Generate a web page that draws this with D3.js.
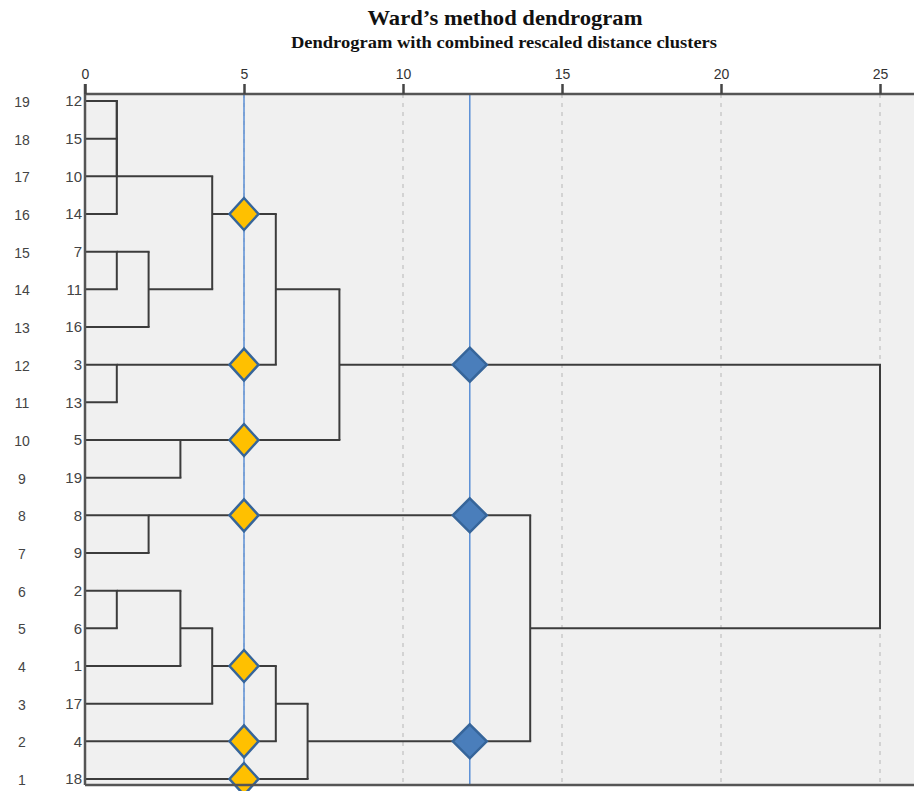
<!DOCTYPE html>
<html>
<head>
<meta charset="utf-8">
<script src="https://cdn.jsdelivr.net/npm/d3@7"></script>
<style>
  html, body { margin: 0; padding: 0; background: #ffffff; }
  svg { display: block; }
</style>
</head>
<body>
<svg id="chart" width="914" height="791"></svg>
<script>
// ---------------- DATA ----------------
const title = "Ward\u2019s method dendrogram";
const subtitle = "Dendrogram with combined rescaled distance clusters";
// Leaves, top to bottom: case labels and their row numbers
const caseLabels = ["12","15","10","14","7","11","16","3","13","5","19","8","9","2","6","1","17","4","18"];
const rowNumbers = [19,18,17,16,15,14,13,12,11,10,9,8,7,6,5,4,3,2,1];
// Agglomeration steps: [childA, childB, rescaled distance]
// children: "L<case>" = leaf, "M<step>" = earlier merge (1-based)
const mergeA = ["L12","M1","M2","L7","M4","M3","L3","M6","L5","M8","L8","L2","M12","M13","M14","M15","M11","M10"];
const mergeB = ["L15","L10","L14","L11","L16","M5","L13","M7","L19","M9","L9","L6","L1","L17","L4","L18","M16","M17"];
const mergeDist = [1,1,1,1,2,4,1,6,3,8,2,1,3,4,6,7,14,25];
// Cut lines (rescaled distance)
const cuts = [5.0, 12.1];
const tickValues = [0,5,10,15,20,25];

// ---------------- LAYOUT ----------------
const svg = d3.select("#chart");
const plot = {left: 85, right: 914, top: 94, bottom: 785};
const x = d3.scaleLinear().domain([0, 25]).range([85, 880]);
const y = d3.scalePoint().domain(d3.range(caseLabels.length)).range([101, 779]);

// build tree
const nodes = {};
caseLabels.forEach((c, i) => nodes["L" + c] = {pos: i, dist: 0});
const segs = [];   // horizontal segments
const verts = [];  // vertical segments
mergeA.forEach((a, i) => {
  const A = nodes[a], B = nodes[mergeB[i]], d = mergeDist[i];
  segs.push({pos: A.pos, d0: A.dist, d1: d});
  segs.push({pos: B.pos, d0: B.dist, d1: d});
  verts.push({d: d, p0: Math.min(A.pos, B.pos), p1: Math.max(A.pos, B.pos)});
  nodes["M" + (i + 1)] = {pos: Math.floor((A.pos + B.pos) / 2), dist: d};
});

// background
svg.append("rect").attr("x", plot.left).attr("y", plot.top)
  .attr("width", plot.right - plot.left).attr("height", plot.bottom - plot.top)
  .attr("fill", "#f0f0f0");

// dotted grid
svg.append("g").selectAll("line").data(tickValues.filter(t => t > 0)).join("line")
  .attr("x1", d => x(d)).attr("x2", d => x(d))
  .attr("y1", plot.top).attr("y2", plot.bottom)
  .attr("stroke", "#c9c9c9").attr("stroke-width", 1.5).attr("stroke-dasharray", "4,5");

// dendrogram
const dg = svg.append("g").attr("stroke", "#3c3c3c").attr("stroke-width", 2).attr("fill", "none");
dg.selectAll("line.h").data(segs).join("line").attr("class", "h")
  .attr("x1", d => x(d.d0)).attr("x2", d => x(d.d1) + 1)
  .attr("y1", d => y(d.pos)).attr("y2", d => y(d.pos));
dg.selectAll("line.v").data(verts).join("line").attr("class", "v")
  .attr("x1", d => x(d.d)).attr("x2", d => x(d.d))
  .attr("y1", d => y(d.p0)).attr("y2", d => y(d.p1));

// cut lines
svg.append("g").selectAll("line").data(cuts).join("line")
  .attr("x1", d => x(d)).attr("x2", d => x(d))
  .attr("y1", plot.top).attr("y2", plot.bottom)
  .attr("stroke", "#5b8fd6").attr("stroke-width", 1.5);

// diamonds at crossings
const marks = [];
cuts.forEach((c, ci) => segs.forEach(s => {
  if (s.d0 < c && s.d1 > c) marks.push({cut: c, pos: s.pos, ci: ci});
}));
svg.append("g").selectAll("path").data(marks).join("path")
  .attr("transform", d => `translate(${x(d.cut)},${y(d.pos)})`)
  .attr("d", d => {
    const w = d.ci === 0 ? 14.5 : 17, h = d.ci === 0 ? 16 : 17;
    return `M0,${-h}L${w},0L0,${h}L${-w},0Z`;
  })
  .attr("fill", d => d.ci === 0 ? "#ffc000" : "#4a7ebb")
  .attr("stroke", "#36659a").attr("stroke-width", 2.5).attr("stroke-linejoin", "miter");

// frame
const fr = svg.append("g").attr("stroke", "#555").attr("stroke-width", 2.5);
fr.append("line").attr("x1", plot.left).attr("x2", plot.right).attr("y1", plot.top).attr("y2", plot.top);
fr.append("line").attr("x1", plot.left).attr("x2", plot.left).attr("y1", plot.top - 10).attr("y2", plot.bottom);
fr.append("line").attr("x1", plot.left).attr("x2", plot.right).attr("y1", plot.bottom).attr("y2", plot.bottom);

// top axis
const ax = svg.append("g").attr("transform", `translate(0,${plot.top})`)
  .call(d3.axisTop(x).tickValues(tickValues).tickSize(10).tickPadding(5).tickSizeOuter(0));
ax.select(".domain").remove();
ax.selectAll(".tick line").attr("stroke", "#444").attr("stroke-width", 2.5);
ax.selectAll(".tick text").attr("font-family", "Liberation Sans, Arial, sans-serif")
  .attr("font-size", 14).attr("fill", "#333");

// leaf labels
svg.append("g").selectAll("text").data(caseLabels).join("text")
  .attr("x", 82).attr("y", (d, i) => y(i)).attr("dy", "0.35em")
  .attr("text-anchor", "end").attr("font-family", "Liberation Sans, Arial, sans-serif")
  .attr("font-size", 15).attr("fill", "#444").text(d => d);
svg.append("g").selectAll("text").data(rowNumbers).join("text")
  .attr("x", 22).attr("y", (d, i) => y(i) + 1).attr("dy", "0.35em")
  .attr("text-anchor", "middle").attr("font-family", "Liberation Sans, Arial, sans-serif")
  .attr("font-size", 14).attr("fill", "#444").text(d => d);

// titles
svg.append("text").attr("x", 505).attr("y", 25).attr("text-anchor", "middle")
  .attr("font-family", "Liberation Serif, Times New Roman, serif").attr("font-weight", "bold")
  .attr("font-size", 21).attr("fill", "#111")
  .attr("textLength", 275).attr("lengthAdjust", "spacingAndGlyphs").text(title);
svg.append("text").attr("x", 504).attr("y", 48).attr("text-anchor", "middle")
  .attr("font-family", "Liberation Serif, Times New Roman, serif").attr("font-weight", "bold")
  .attr("font-size", 16).attr("fill", "#111")
  .attr("textLength", 426).attr("lengthAdjust", "spacingAndGlyphs").text(subtitle);
</script>
</body>
</html>
